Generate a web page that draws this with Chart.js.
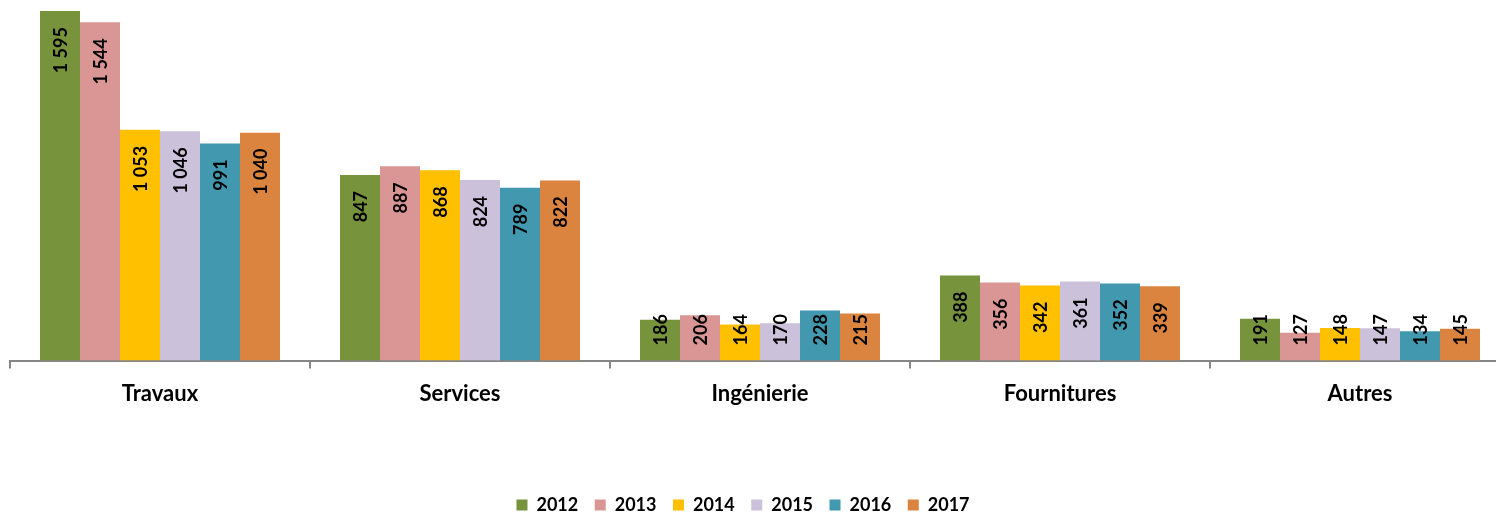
<!DOCTYPE html>
<html>
<head>
<meta charset="utf-8">
<script src="https://cdn.jsdelivr.net/npm/chart.js@4/dist/chart.umd.min.js"></script>
<style>
html,body{margin:0;padding:0;background:#fff;overflow:hidden;width:1496px;height:514px;}
#wrap{position:absolute;left:0;top:0;width:1512px;height:524px;}
</style>
</head>
<body>
<div id="wrap"><canvas id="c"></canvas></div>
<script>
const categories = ['Travaux', 'Services', 'Ingénierie', 'Fournitures', 'Autres'];
const years = ['2012', '2013', '2014', '2015', '2016', '2017'];
const v2012 = [1595, 847, 186, 388, 191];
const v2013 = [1544, 887, 206, 356, 127];
const v2014 = [1053, 868, 164, 342, 148];
const v2015 = [1046, 824, 170, 361, 147];
const v2016 = [991, 789, 228, 352, 134];
const v2017 = [1040, 822, 215, 339, 145];
const yMin = 0;
const yMax = 1600;

const seriesValues = [v2012, v2013, v2014, v2015, v2016, v2017];
const colors = ['#77933C', '#D99694', '#FFC000', '#CCC1DA', '#4198AF', '#DA843F'];
const FONT = 'Lato, Carlito, "Liberation Sans", sans-serif';

function fmt(v) {
  return String(v).replace(/\B(?=(\d{3})+(?!\d))/g, ' ');
}

const labelPlugin = {
  id: 'barLabels',
  afterDatasetsDraw(chart) {
    const ctx = chart.ctx;
    const zeroY = chart.scales.y.getPixelForValue(0);
    ctx.save();
    ctx.font = 'bold 18px ' + FONT;
    ctx.fillStyle = '#000';
    ctx.textAlign = 'center';
    ctx.textBaseline = 'middle';
    chart.data.datasets.forEach((ds, di) => {
      const meta = chart.getDatasetMeta(di);
      meta.data.forEach((el, i) => {
        const text = fmt(ds.data[i]);
        const w = ctx.measureText(text).width;
        let top = el.y + 16;
        let bottom = top + w;
        const limit = zeroY - 15;
        if (bottom > limit) { bottom = limit; top = bottom - w; }
        const cy = (top + bottom) / 2;
        ctx.save();
        ctx.translate(el.x, cy);
        ctx.rotate(-Math.PI / 2);
        ctx.fillText(text, 0, 1);
        ctx.restore();
      });
    });
    ctx.restore();
  }
};

const legendShift = {
  id: 'legendShift',
  afterLayout(chart) {
    if (chart.legend) {
      chart.legend.left -= 17;
      chart.legend.right -= 17;
    }
  }
};

new Chart(document.getElementById('c'), {
  type: 'bar',
  data: {
    labels: categories,
    datasets: years.map((y, i) => ({
      label: y,
      data: seriesValues[i],
      backgroundColor: colors[i],
      borderWidth: 0,
      categoryPercentage: 0.8,
      barPercentage: 1.0
    }))
  },
  options: {
    responsive: true,
    maintainAspectRatio: false,
    animation: false,
    devicePixelRatio: 1,
    layout: { padding: { left: 10, right: 2, top: 10, bottom: 0 } },
    plugins: {
      tooltip: { enabled: false },
      legend: {
        position: 'bottom',
        labels: {
          font: { family: FONT, size: 18, weight: 'bold' },
          color: '#000',
          boxWidth: 11,
          boxHeight: 11,
          padding: 16.5
        }
      }
    },
    scales: {
      x: {
        grid: {
          offset: true,
          drawOnChartArea: false,
          drawTicks: true,
          tickLength: 8,
          color: '#868686',
          lineWidth: 2
        },
        border: { display: true, color: '#868686', width: 2 },
        ticks: {
          font: { family: FONT, size: 22, weight: 'bold' },
          color: '#000',
          padding: 12,
          maxRotation: 0
        },
        afterFit(scale) { scale.height = 119; }
      },
      y: {
        display: false,
        min: yMin,
        max: yMax
      }
    }
  },
  plugins: [labelPlugin, legendShift]
});
</script>
</body>
</html>
